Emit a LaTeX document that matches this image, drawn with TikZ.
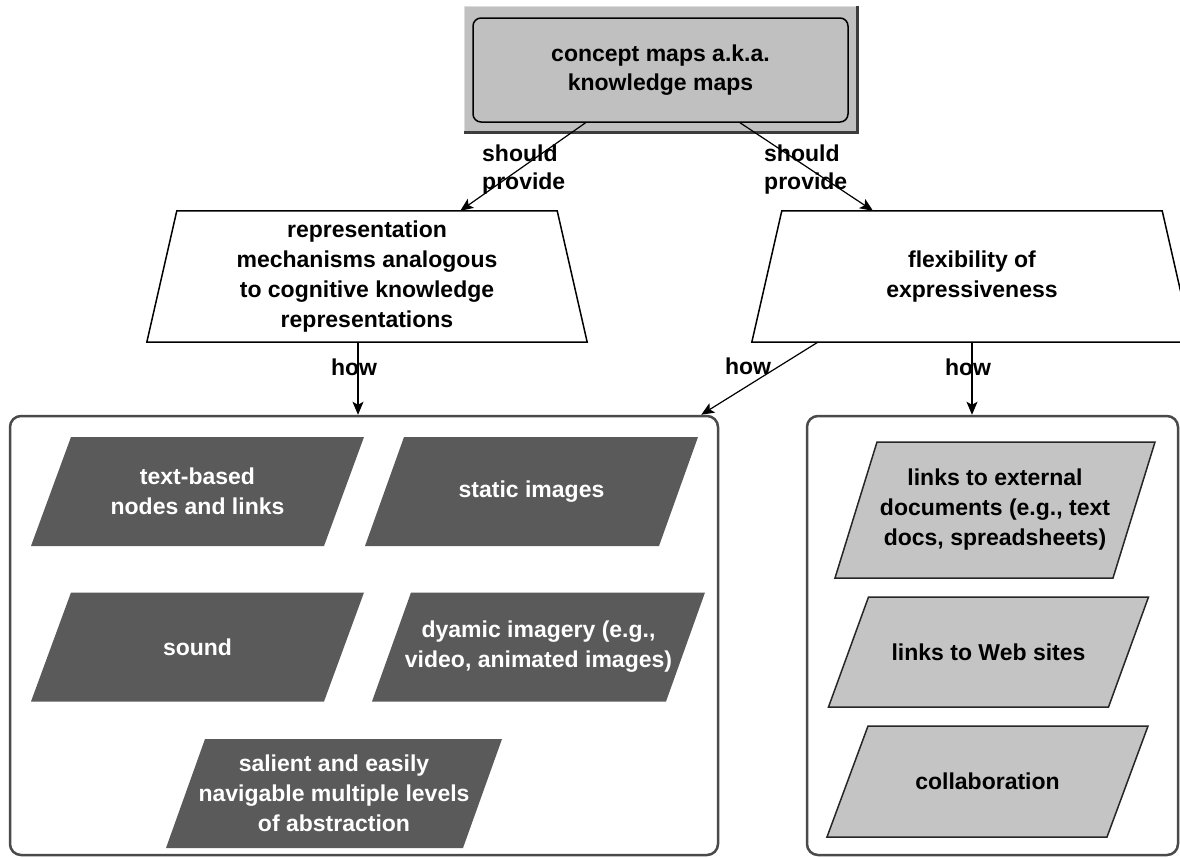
\documentclass[tikz,border=0pt]{standalone}
\usepackage{fontspec}
\setmainfont{Liberation Sans}
\usetikzlibrary{arrows.meta,calc,backgrounds}

\definecolor{panelgray}{HTML}{C0C0C0}
\definecolor{itemgray}{HTML}{C4C4C4}
\definecolor{darkfill}{HTML}{5A5A5A}
\definecolor{framegray}{HTML}{4A4A4A}
\definecolor{bevellight}{HTML}{DCDCDC}
\definecolor{beveldark}{HTML}{3C3C3C}

% slanted box: name, centre x, centre y, overall width, height, slant, style, text
\newcommand\slantbox[8]{%
  \path[#7] ({#2-#4/2},{#3+#5/2}) -- ({#2+#4/2-#6},{#3+#5/2})
        -- ({#2+#4/2},{#3-#5/2}) -- ({#2-#4/2+#6},{#3-#5/2}) -- cycle;
  \node[#7 text] (#1) at (#2,#3) {#8};}

\begin{document}
\begin{tikzpicture}[x=1pt,y=-1pt,
  every node/.style={font=\fontsize{23}{30}\selectfont\bfseries, inner sep=0pt},
  conn/.style={line width=1.2pt, -{Stealth[length=13pt,width=11pt,inset=3pt]}},
  lbl/.style={align=left, font=\fontsize{23}{28}\selectfont\bfseries},
  groupbox/.style={draw=framegray, line width=2.5pt, rounded corners=11pt},
  trapbody/.style={minimum width=380pt, minimum height=131pt, align=center},
  trapline/.style={draw=black, line width=1.5pt, fill=white},
  darkshape/.style={fill=darkfill},
  darkshape text/.style={text=white, align=center},
  lightshape/.style={fill=itemgray, draw=black!85, line width=1.5pt},
  lightshape text/.style={align=center},
]
\useasboundingbox (0,0) rectangle (1180,857);
\begin{scope}[on background layer]
  \fill[white] (0,0) rectangle (1180,857);
\end{scope}

% top concept with raised panel
\node[draw=black, line width=1.5pt, fill=panelgray, rounded corners=8pt,
      minimum width=375pt, minimum height=104pt, align=center,
      font=\fontsize{23}{29}\selectfont\bfseries] (top) at (660.5,70)
      {concept maps a.k.a.\\knowledge maps};
\begin{scope}[on background layer]
  \fill[panelgray] ([shift={(-8,-11)}]top.north west) rectangle ([shift={(9,10)}]top.south east);
  \draw[bevellight, line width=1.5pt] ([shift={(-8,10)}]top.south west)
       -- ([shift={(-8,-11)}]top.north west) -- ([shift={(9,-11)}]top.north east);
  \draw[beveldark, line width=3pt] ([shift={(9,-11)}]top.north east)
       -- ([shift={(9,10)}]top.south east) -- ([shift={(-8,10)}]top.south west);
\end{scope}

% trapezoids
\node[trapbody] (ltrap) at (367,276.5)
  {representation\\mechanisms analogous\\to cognitive knowledge\\representations};
\node[trapbody] (rtrap) at (972,276.5) {flexibility of\\expressiveness};
\begin{scope}[on background layer]
  \draw[trapline] (ltrap.north west) -- (ltrap.north east)
       -- ([shift={(30,0)}]ltrap.south east) -- ([shift={(-30,0)}]ltrap.south west) -- cycle;
  \draw[trapline] (rtrap.north west) -- (rtrap.north east)
       -- ([shift={(30,0)}]rtrap.south east) -- ([shift={(-30,0)}]rtrap.south west) -- cycle;
\end{scope}

% group frames
\node[groupbox, minimum width=708pt, minimum height=439pt] (lbox) at (364,635.5) {};
\node[groupbox, minimum width=371pt, minimum height=439pt] (rbox) at (992.5,635.5) {};

% media items
\slantbox{textnodes}{197.5}{491.5}{333}{109}{40}{darkshape}{text-based\\nodes and links}
\slantbox{staticimg}{531.5}{491.5}{333}{109}{39}{darkshape}{static images}
\slantbox{sound}{197.5}{647}{333}{109}{40}{darkshape}{sound}
\slantbox{dynimg}{538.5}{647}{333}{109}{39}{darkshape}{dyamic imagery (e.g.,\\video, animated images)}
\slantbox{levels}{334}{793.5}{336}{109}{39}{darkshape}{salient and easily\\navigable multiple levels\\of abstraction}

% linking items
\slantbox{extdocs}{995}{510}{320}{136}{42}{lightshape}{links to external\\documents (e.g., text\\docs, spreadsheets)}
\slantbox{websites}{988.5}{652}{320}{110}{40}{lightshape}{links to Web sites}
\slantbox{collab}{987.5}{781.5}{321}{111}{41}{lightshape}{collaboration}

% connectors
\draw[conn] (top) -- (ltrap);
\draw[conn] (top) -- (rtrap);
\draw[conn] ([xshift=-9pt]ltrap.south) -- ([xshift=-9pt]ltrap.south |- lbox.north);
\draw[conn] ([xshift=36pt]rtrap.south west) -- ([xshift=-18pt]lbox.north east);
\draw[conn] (rtrap.south) -- (rtrap.south |- rbox.north);

% link labels
\node[lbl, anchor=west] (sp1) at (482,170) {should\\provide};
\node[lbl, anchor=west] (sp2) at (764,170) {should\\provide};
\node (how1) at (354,367) {how};
\node (how2) at (748,366) {how};
\node (how3) at (968,367) {how};
\end{tikzpicture}
\end{document}
